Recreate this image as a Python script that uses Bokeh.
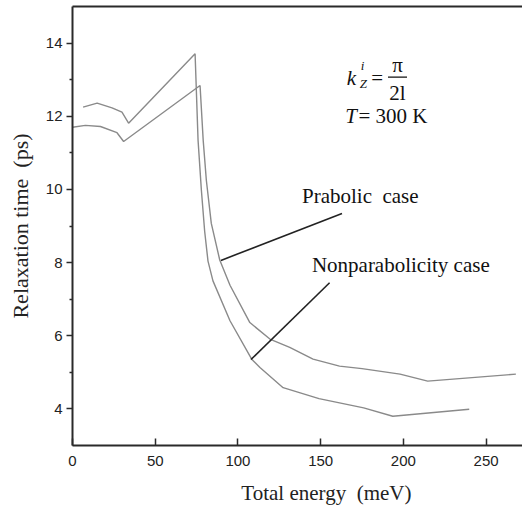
from bokeh.plotting import figure
from bokeh.models import Range1d, LinearAxis, FixedTicker, Label
from bokeh.embed import file_html
from bokeh.resources import INLINE

# Nonparabolicity case (higher peak, lower tail)
energy_nonpar = [6.4, 14.9, 23.9, 29.9, 33.9, 74.1, 75.9, 77.9, 79.9, 81.9, 84.9,
                 95.2, 108.3, 113.3, 127.3, 149.0, 176.0, 193.6, 239.8]
tau_nonpar = [12.25, 12.36, 12.23, 12.11, 11.81, 13.71, 11.34, 9.98, 8.85, 8.04, 7.50,
              6.41, 5.36, 5.13, 4.58, 4.28, 4.03, 3.80, 3.99]

# Parabolic case
energy_par = [0.0, 7.8, 16.9, 26.9, 30.9, 77.1, 79.0, 80.9, 83.9, 89.0, 95.2,
              107.2, 119.3, 131.3, 145.4, 161.4, 175.0, 198.0, 214.7, 268.0]
tau_par = [11.70, 11.75, 11.72, 11.55, 11.31, 12.84, 11.34, 10.25, 9.07, 8.07, 7.38,
           6.36, 5.91, 5.68, 5.36, 5.17, 5.10, 4.95, 4.76, 4.95]

x_ticks = [0, 50, 100, 150, 200, 250]
y_ticks = [4, 6, 8, 10, 12, 14]
y_minor = [5, 7, 9, 11, 13]

AX = "#2a2a2a"
CURVE = "#8a8a8a"
SERIF = "Liberation Serif"
SANS = "Liberation Sans"
NB = "\u00a0"

p = figure(width=522, height=508, x_range=Range1d(0, 272), y_range=Range1d(3, 15),
           output_backend="svg", toolbar_location=None,
           min_border_left=72, min_border_right=0, min_border_top=6, min_border_bottom=63)
p.outline_line_color = None
p.xgrid.visible = False
p.ygrid.visible = False
p.background_fill_color = "white"
p.border_fill_color = "white"

xa = p.xaxis[0]
xa.ticker = FixedTicker(ticks=x_ticks)
xa.major_tick_in = 7
xa.major_tick_out = 0
xa.minor_tick_line_color = None
xa.axis_line_width = 2
xa.axis_line_color = AX
xa.major_tick_line_color = AX
xa.major_tick_line_width = 1.5
xa.major_label_text_font = SANS
xa.major_label_text_font_size = "15px"
xa.major_label_text_color = "#222"
xa.major_label_standoff = 10
xa.axis_label = NB * 11 + "Total energy" + NB * 2 + "(meV)"
xa.axis_label_text_font = SERIF
xa.axis_label_text_font_style = "normal"
xa.axis_label_text_font_size = "21px"
xa.axis_label_text_color = "#222"
xa.axis_label_standoff = 12

ya = p.yaxis[0]
ya.ticker = FixedTicker(ticks=y_ticks, minor_ticks=y_minor)
ya.major_tick_in = 0
ya.major_tick_out = 6
ya.minor_tick_in = 0
ya.minor_tick_out = 3
ya.axis_line_width = 2
ya.axis_line_color = AX
ya.major_tick_line_color = AX
ya.minor_tick_line_color = AX
ya.major_tick_line_width = 1.5
ya.minor_tick_line_width = 1.5
ya.major_label_text_font = SANS
ya.major_label_text_font_size = "15px"
ya.major_label_text_color = "#222"
ya.major_label_standoff = 4
ya.axis_label = "Relaxation time" + NB * 2 + "(ps)"
ya.axis_label_text_font = SERIF
ya.axis_label_text_font_style = "normal"
ya.axis_label_text_font_size = "22px"
ya.axis_label_text_color = "#222"
ya.axis_label_standoff = 10

top = LinearAxis(ticker=FixedTicker(ticks=[]), major_label_text_font_size="0px",
                 major_tick_in=0, major_tick_out=0, minor_tick_in=0, minor_tick_out=0,
                 axis_line_width=2, axis_line_color=AX, major_label_standoff=0)
p.add_layout(top, "above")

p.line(energy_nonpar, tau_nonpar, line_color=CURVE, line_width=1.4)
p.line(energy_par, tau_par, line_color=CURVE, line_width=1.4)

# pointer lines for the annotations
p.segment(x0=[162.9, 155.4], y0=[9.34, 7.45], x1=[89.7, 107.9], y1=[8.06, 5.35],
          line_color="#222", line_width=1.6)

def lab(x, y, text, size="21px", style="normal", align="left"):
    p.add_layout(Label(x=x, y=y, text=text, text_font=SERIF, text_font_size=size,
                       text_font_style=style, text_color="#111", text_align=align,
                       text_baseline="alphabetic"))

lab(138.7, 9.83, "Prabolic" + NB * 2 + "case")
lab(144.7, 7.94, "Nonparabolicity case")
lab(164.8, 12.0, "T", style="italic")
lab(172.8, 12.0, "= 300 K")
lab(165.8, 13.04, "k", style="italic")
lab(174.3, 13.38, "i", size="13px", style="italic")
lab(173.6, 12.9, "Z", size="13px", style="italic")
lab(180.6, 13.04, "=")
lab(196.4, 13.4, "π", align="center")
lab(196.4, 12.64, "2l", align="center")
p.segment(x0=[190.7], y0=[13.07], x1=[202.2], y1=[13.07], line_color="#111", line_width=1.3)

open("out.html", "w").write(file_html(p, INLINE))
